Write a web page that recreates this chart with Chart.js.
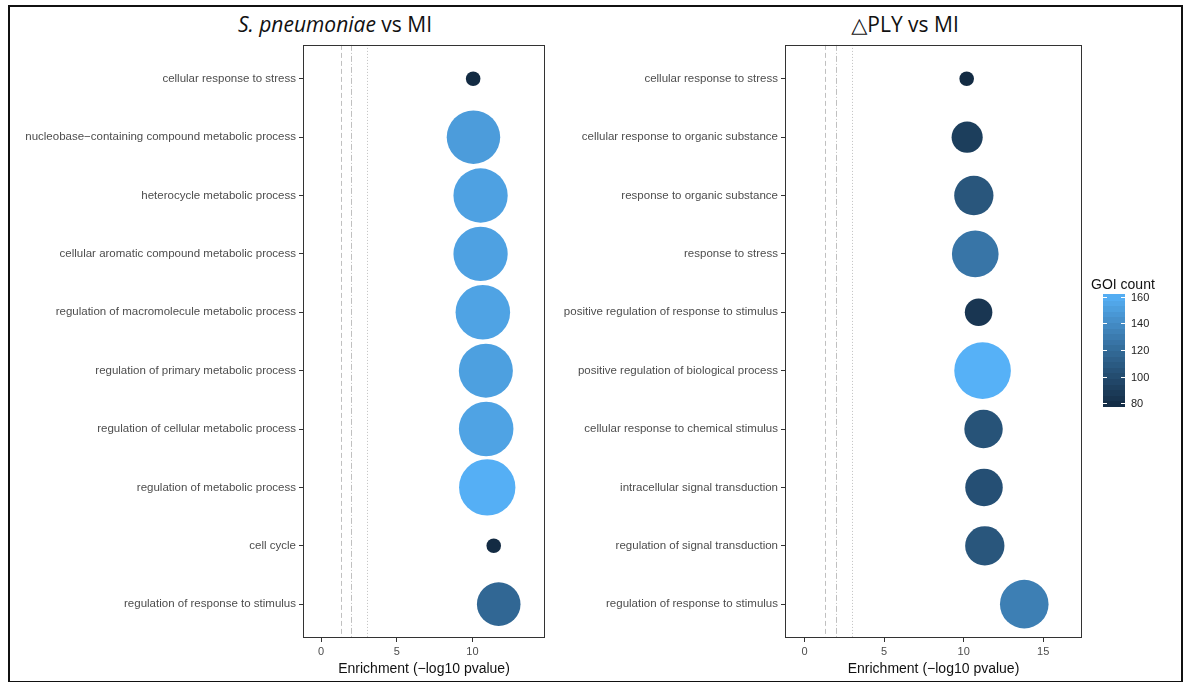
<!DOCTYPE html>
<html>
<head>
<meta charset="utf-8">
<script src="https://cdn.jsdelivr.net/npm/chart.js@4.4.1/dist/chart.umd.min.js"></script>
<style>
  body { margin: 0; background: #fff; width: 1189px; height: 682px; overflow: hidden; position: relative; }
  #frame { position: absolute; left: 8px; top: 5px; width: 1171px; height: 674px; border: 2px solid #111; }
  .title { position: absolute; top: 10px; font-family: "Open Sans", sans-serif; font-size: 21px; color: #111; white-space: nowrap; transform: translateX(-50%); }
  .box { position: absolute; top: 35px; height: 645px; }
</style>
</head>
<body>
<div id="frame"></div>
<div class="title" style="left:335px"><i>S. pneumoniae</i> vs MI</div>
<div class="title" style="left:905px"><span style="font-family:'DejaVu Sans'">&#9651;</span>PLY vs MI</div>
<div class="box" style="left:10px; width:545px"><canvas id="leftChart"></canvas></div>
<div class="box" style="left:555px; width:627px"><canvas id="rightChart"></canvas></div>
<script>
// -----------------------------
// data
// -----------------------------
const leftTerms = [
    'cellular response to stress',
    'nucleobase\u2212containing compound metabolic process',
    'heterocycle metabolic process',
    'cellular aromatic compound metabolic process',
    'regulation of macromolecule metabolic process',
    'regulation of primary metabolic process',
    'regulation of cellular metabolic process',
    'regulation of metabolic process',
    'cell cycle',
    'regulation of response to stimulus'
];
const leftEnrichment = [10.05, 10.07, 10.54, 10.54, 10.69, 10.89, 10.91, 10.98, 11.41, 11.74];
const leftCount = [78, 150, 153, 153, 154, 152, 154, 161, 78, 118];

const rightTerms = [
    'cellular response to stress',
    'cellular response to organic substance',
    'response to organic substance',
    'response to stress',
    'positive regulation of response to stimulus',
    'positive regulation of biological process',
    'cellular response to chemical stimulus',
    'intracellular signal transduction',
    'regulation of signal transduction',
    'regulation of response to stimulus'
];
const rightEnrichment = [10.19, 10.22, 10.64, 10.73, 10.94, 11.19, 11.25, 11.28, 11.33, 13.81];
const rightCount = [78, 91, 107, 127, 86, 162, 105, 103, 107, 133];

const leftXTicks = [0, 5, 10];
const rightXTicks = [0, 5, 10, 15];
const cutoffs = [1.3, 2, 3];            // -log10 of 0.05, 0.01, 0.001
const legendTicks = [80, 100, 120, 140, 160];
const countLimits = [78, 162];

// -----------------------------
// colour + size scales (ggplot style)
// -----------------------------
const LOW = '#132B43', HIGH = '#56B1F7';

function toLab(hex) {
    const c = [1, 3, 5].map(i => parseInt(hex.substr(i, 2), 16) / 255)
        .map(v => v <= 0.04045 ? v / 12.92 : Math.pow((v + 0.055) / 1.055, 2.4));
    const x = (0.4124 * c[0] + 0.3576 * c[1] + 0.1805 * c[2]) / 0.95047;
    const y = 0.2126 * c[0] + 0.7152 * c[1] + 0.0722 * c[2];
    const z = (0.0193 * c[0] + 0.1192 * c[1] + 0.9505 * c[2]) / 1.08883;
    const f = t => t > 0.008856 ? Math.cbrt(t) : 7.787 * t + 16 / 116;
    return [116 * f(y) - 16, 500 * (f(x) - f(y)), 200 * (f(y) - f(z))];
}
function fromLab(L, a, b) {
    const fy = (L + 16) / 116, fx = fy + a / 500, fz = fy - b / 200;
    const g = t => t * t * t > 0.008856 ? t * t * t : (t - 16 / 116) / 7.787;
    const x = g(fx) * 0.95047, y = g(fy), z = g(fz) * 1.08883;
    const r = 3.2406 * x - 1.5372 * y - 0.4986 * z;
    const gg = -0.9689 * x + 1.8758 * y + 0.0415 * z;
    const bb = 0.0557 * x - 0.2040 * y + 1.0570 * z;
    const enc = v => {
        v = v <= 0.0031308 ? 12.92 * v : 1.055 * Math.pow(v, 1 / 2.4) - 0.055;
        return Math.round(Math.min(1, Math.max(0, v)) * 255);
    };
    return 'rgb(' + enc(r) + ',' + enc(gg) + ',' + enc(bb) + ')';
}
const labLow = toLab(LOW), labHigh = toLab(HIGH);

function rescale(v) {
    return Math.min(1, Math.max(0, (v - countLimits[0]) / (countLimits[1] - countLimits[0])));
}
function countColor(v) {
    const t = rescale(v);
    return fromLab(
        labLow[0] + (labHigh[0] - labLow[0]) * t,
        labLow[1] + (labHigh[1] - labLow[1]) * t,
        labLow[2] + (labHigh[2] - labLow[2]) * t
    );
}
// area palette: radius grows with sqrt of rescaled count
function countRadius(v) {
    return 7.3 + 21 * Math.sqrt(rescale(v));
}

Chart.defaults.font.family = '"Liberation Sans", Arial, sans-serif';
Chart.defaults.animation = false;

// -----------------------------
// plugin: panel border + cutoff lines
// -----------------------------
const panelPlugin = {
    id: 'panel',
    beforeDatasetsDraw(chart) {
        const ctx = chart.ctx, a = chart.chartArea, xs = chart.scales.x;
        const dashes = [[5, 3], [6, 2, 1, 2], [1, 2]];
        ctx.save();
        ctx.strokeStyle = '#c0c0c0';
        ctx.lineWidth = 1;
        cutoffs.forEach((c, i) => {
            const px = Math.round(xs.getPixelForValue(c)) + 0.5;
            ctx.setLineDash(dashes[i]);
            ctx.beginPath();
            ctx.moveTo(px, a.top);
            ctx.lineTo(px, a.bottom);
            ctx.stroke();
        });
        ctx.restore();
    },
    afterDraw(chart) {
        const ctx = chart.ctx, a = chart.chartArea;
        ctx.save();
        ctx.strokeStyle = '#333';
        ctx.lineWidth = 1;
        ctx.strokeRect(Math.round(a.left) + 0.5, Math.round(a.top) + 0.5,
            Math.round(a.right - a.left) - 1, Math.round(a.bottom - a.top) - 1);
        ctx.restore();
    }
};

// plugin: colour bar legend (right panel only)
const colorbarPlugin = {
    id: 'colorbar',
    afterDraw(chart) {
        const ctx = chart.ctx;
        const left = chart.chartArea.right + 21, top = 259, w = 22, h = 112, bins = 20;
        ctx.save();
        ctx.fillStyle = '#111';
        ctx.font = '14px "Liberation Sans", Arial, sans-serif';
        ctx.textBaseline = 'alphabetic';
        ctx.textAlign = 'left';
        ctx.fillText('GOI count', left - 12, top - 5);
        for (let i = 0; i < bins; i++) {
            const v = countLimits[0] + (i + 0.5) / bins * (countLimits[1] - countLimits[0]);
            ctx.fillStyle = countColor(v);
            const y0 = top + h - (i + 1) * h / bins;
            ctx.fillRect(left, Math.floor(y0), w, Math.ceil(h / bins) + 1);
        }
        ctx.font = '11px "Liberation Sans", Arial, sans-serif';
        ctx.textBaseline = 'middle';
        legendTicks.forEach(t => {
            const y = Math.round(top + h - rescale(t) * h) + 0.5;
            ctx.strokeStyle = '#fff';
            ctx.beginPath();
            ctx.moveTo(left, y); ctx.lineTo(left + 4, y);
            ctx.moveTo(left + w - 4, y); ctx.lineTo(left + w, y);
            ctx.stroke();
            ctx.fillStyle = '#222';
            ctx.fillText(String(t), left + w + 6, y);
        });
        ctx.restore();
    }
};

function makeChart(id, terms, enrichment, counts, xTicks, xMin, xMax, yAxisWidth, padRight, extraPlugins) {
    const points = terms.map((t, i) => ({ x: enrichment[i], y: i + 1, r: countRadius(counts[i]) }));
    return new Chart(document.getElementById(id), {
        type: 'bubble',
        data: {
            datasets: [{
                data: points,
                backgroundColor: counts.map(countColor),
                borderWidth: 0,
                hoverBorderWidth: 0
            }]
        },
        plugins: [panelPlugin].concat(extraPlugins),
        options: {
            responsive: true,
            maintainAspectRatio: false,
            layout: { autoPadding: false, padding: { top: 5, right: padRight, bottom: 0, left: 0 } },
            plugins: { legend: { display: false }, tooltip: { enabled: false } },
            scales: {
                x: {
                    type: 'linear',
                    min: xMin, max: xMax,
                    afterBuildTicks: s => { s.ticks = xTicks.map(v => ({ value: v })); },
                    afterFit: s => { s.height = 42; },
                    grid: { drawOnChartArea: false, drawTicks: true, tickLength: 4, tickColor: '#333' },
                    border: { display: false },
                    ticks: { color: '#4d4d4d', font: { size: 11 }, padding: 3 },
                    title: {
                        display: true,
                        text: 'Enrichment (\u2212log10 pvalue)',
                        color: '#111',
                        font: { size: 14 },
                        padding: { top: 0, bottom: 2 }
                    }
                },
                y: {
                    type: 'linear',
                    reverse: true,
                    min: 0.42, max: terms.length + 0.58,
                    afterBuildTicks: s => { s.ticks = terms.map((t, i) => ({ value: i + 1 })); },
                    afterFit: s => { s.width = yAxisWidth; },
                    grid: { drawOnChartArea: false, drawTicks: true, tickLength: 4, tickColor: '#333' },
                    border: { display: false },
                    ticks: {
                        color: '#4d4d4d',
                        font: { size: 11.5 },
                        padding: 3,
                        autoSkip: false,
                        callback: v => terms[v - 1]
                    }
                }
            }
        }
    });
}

makeChart('leftChart', leftTerms, leftEnrichment, leftCount, leftXTicks, -1.2, 14.8, 293, 10, []);
makeChart('rightChart', rightTerms, rightEnrichment, rightCount, rightXTicks, -1.23, 17.44, 230, 100, [colorbarPlugin]);
</script>
</body>
</html>
